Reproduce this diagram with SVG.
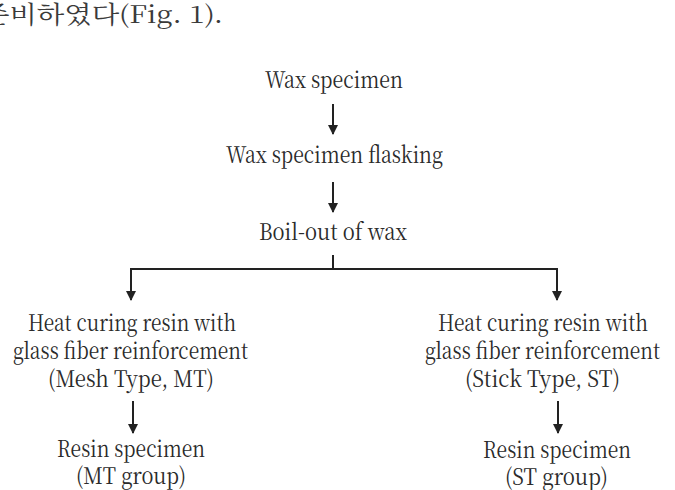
<svg xmlns="http://www.w3.org/2000/svg" width="675" height="490" viewBox="0 0 675 490">
<style>
  .lbl { font-size: 23px; fill: #2a2a2a; }
  .kor { font-size: 24px; fill: #3a3a3a; }
  .c { stroke: #222; stroke-width: 2; fill: none; }
</style>
<defs>
  <marker id="ah" markerWidth="10" markerHeight="10" refX="9" refY="5" orient="auto-start-reverse" markerUnits="userSpaceOnUse" viewBox="0 0 10 10">
    <path d="M0,0 L10,5 L0,10 Z" fill="#222"/>
  </marker>
</defs>
<rect width="675" height="490" fill="#fff"/>
<text class="kor" font-family="'Noto Serif CJK KR', serif" x="-18" y="23" textLength="241" lengthAdjust="spacingAndGlyphs">준비하였다(Fig. 1).</text>

<g id="connectors">
  <line class="c" x1="333" y1="104" x2="333" y2="134" marker-end="url(#ah)"/>
  <line class="c" x1="333" y1="182" x2="333" y2="212" marker-end="url(#ah)"/>
  <line class="c" x1="333" y1="255" x2="333" y2="269"/>
  <polyline class="c" points="131,300 131,269 557,269 557,300" marker-end="url(#ah)" marker-start="url(#ah)"/>
  <line class="c" x1="133" y1="401" x2="133" y2="433" marker-end="url(#ah)"/>
  <line class="c" x1="558" y1="401" x2="558" y2="433" marker-end="url(#ah)"/>
</g>

<g id="wax-specimen"><text class="lbl" font-family="'Noto Serif CJK KR', serif" x="265" y="88" textLength="138" lengthAdjust="spacingAndGlyphs">Wax specimen</text></g>
<g id="wax-flasking"><text class="lbl" font-family="'Noto Serif CJK KR', serif" x="226" y="163" textLength="217" lengthAdjust="spacingAndGlyphs">Wax specimen flasking</text></g>
<g id="boil-out"><text class="lbl" font-family="'Noto Serif CJK KR', serif" x="259" y="240" textLength="148" lengthAdjust="spacingAndGlyphs">Boil-out of wax</text></g>
<g id="mesh-type">
  <text class="lbl" font-family="'Noto Serif CJK KR', serif" x="28" y="331" textLength="208" lengthAdjust="spacingAndGlyphs">Heat curing resin with</text>
  <text class="lbl" font-family="'Noto Serif CJK KR', serif" x="13" y="359" textLength="235" lengthAdjust="spacingAndGlyphs">glass fiber reinforcement</text>
  <text class="lbl" font-family="'Noto Serif CJK KR', serif" x="48" y="387" textLength="166" lengthAdjust="spacingAndGlyphs">(Mesh Type, MT)</text>
</g>
<g id="stick-type">
  <text class="lbl" font-family="'Noto Serif CJK KR', serif" x="438" y="331" textLength="210" lengthAdjust="spacingAndGlyphs">Heat curing resin with</text>
  <text class="lbl" font-family="'Noto Serif CJK KR', serif" x="425" y="359" textLength="235" lengthAdjust="spacingAndGlyphs">glass fiber reinforcement</text>
  <text class="lbl" font-family="'Noto Serif CJK KR', serif" x="465" y="387" textLength="155" lengthAdjust="spacingAndGlyphs">(Stick Type, ST)</text>
</g>
<g id="mt-group">
  <text class="lbl" font-family="'Noto Serif CJK KR', serif" x="57" y="457" textLength="148" lengthAdjust="spacingAndGlyphs">Resin specimen</text>
  <text class="lbl" font-family="'Noto Serif CJK KR', serif" x="76" y="484" textLength="110" lengthAdjust="spacingAndGlyphs">(MT group)</text>
</g>
<g id="st-group">
  <text class="lbl" font-family="'Noto Serif CJK KR', serif" x="483" y="458" textLength="148" lengthAdjust="spacingAndGlyphs">Resin specimen</text>
  <text class="lbl" font-family="'Noto Serif CJK KR', serif" x="505" y="485" textLength="103" lengthAdjust="spacingAndGlyphs">(ST group)</text>
</g>
</svg>
